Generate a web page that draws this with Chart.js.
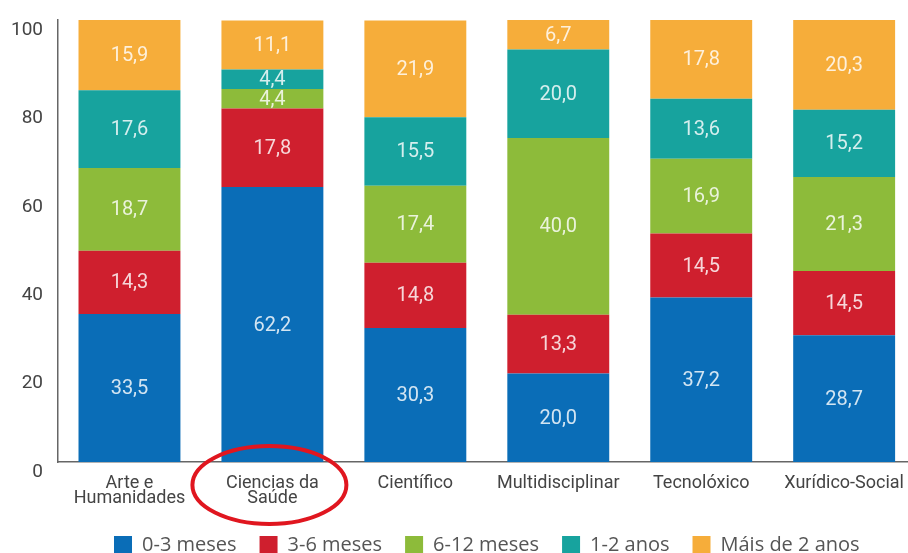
<!DOCTYPE html>
<html lang="gl">
<head>
  <meta charset="UTF-8" />
  <title>Tempo ata o primeiro emprego</title>
  <script src="https://cdn.jsdelivr.net/npm/chart.js"></script>
  <style>
    * { box-sizing: border-box; margin: 0; padding: 0; }
    html, body { width: 908px; height: 553px; overflow: hidden; background: #ffffff; }
    .wrap { position: relative; width: 918px; height: 553px; }
  </style>
</head>
<body>
  <div class="wrap">
    <canvas id="chart"></canvas>
  </div>

  <script>
    // Ramas de coñecemento
    const categories = [
      ['Arte e', 'Humanidades'],
      ['Ciencias da', 'Saúde'],
      'Científico',
      'Multidisciplinar',
      'Tecnolóxico',
      'Xurídico-Social'
    ];
    const seriesNames = ['0-3 meses', '3-6 meses', '6-12 meses', '1-2 anos', 'Máis de 2 anos'];
    const meses0a3   = [33.5, 62.2, 30.3, 20.0, 37.2, 28.7];
    const meses3a6   = [14.3, 17.8, 14.8, 13.3, 14.5, 14.5];
    const meses6a12  = [18.7, 4.4, 17.4, 40.0, 16.9, 21.3];
    const anos1a2    = [17.6, 4.4, 15.5, 20.0, 13.6, 15.2];
    const mais2anos  = [15.9, 11.1, 21.9, 6.7, 17.8, 20.3];
    const yTicks = [0, 20, 40, 60, 80, 100];
    const highlighted = 1; // categoría marcada co círculo vermello

    const colors = ['#0a6db7', '#cf1f2e', '#8dbb3a', '#17a39e', '#f6ad3a'];
    const seriesData = [meses0a3, meses3a6, meses6a12, anos1a2, mais2anos];

    // values written inside each segment
    const segmentLabels = {
      id: 'segmentLabels',
      afterDatasetsDraw(chart) {
        const ctx = chart.ctx;
        ctx.save();
        ctx.font = '20px Roboto, "DejaVu Sans", sans-serif';
        ctx.textAlign = 'center';
        ctx.textBaseline = 'middle';
        ctx.fillStyle = 'rgba(255,255,255,0.82)';
        chart.data.datasets.forEach((ds, i) => {
          chart.getDatasetMeta(i).data.forEach((bar, j) => {
            const mid = (bar.y + bar.base) / 2;
            ctx.fillText(ds.data[j].toFixed(1).replace('.', ','), bar.x, mid + 1);
          });
        });
        ctx.restore();
      }
    };

    // red ellipse around the highlighted category label
    const ringMark = {
      id: 'ringMark',
      afterDraw(chart) {
        const ctx = chart.ctx;
        const x = chart.scales.x.getPixelForValue(highlighted) - 3;
        const y = chart.chartArea.bottom + 23;
        ctx.save();
        ctx.strokeStyle = '#e0161f';
        ctx.lineWidth = 4;
        ctx.beginPath();
        ctx.ellipse(x, y, 77, 39, 0, 0, Math.PI * 2);
        ctx.stroke();
        ctx.restore();
      }
    };

    new Chart(document.getElementById('chart'), {
      type: 'bar',
      data: {
        labels: categories,
        datasets: seriesNames.map((name, i) => ({
          label: name,
          data: seriesData[i],
          backgroundColor: colors[i],
          borderWidth: 0,
          barPercentage: 0.713,
          categoryPercentage: 1.0
        }))
      },
      options: {
        responsive: true,
        maintainAspectRatio: false,
        animation: false,
        layout: { padding: { top: 20, right: 0, bottom: -12, left: 0 } },
        plugins: {
          tooltip: { enabled: false },
          legend: {
            position: 'bottom',
            fullSize: false,
            labels: {
              boxWidth: 18,
              boxHeight: 18,
              padding: 23,
              color: '#555',
              font: { family: '"Open Sans", sans-serif', size: 20 }
            }
          }
        },
        scales: {
          x: {
            stacked: true,
            grid: { display: false, drawTicks: false },
            border: { color: '#666', width: 1.5 },
            ticks: {
              color: '#444',
              padding: 14,
              maxRotation: 0,
              autoSkip: false,
              font: { family: 'Roboto, sans-serif', size: 18, lineHeight: 0.85 }
            },
            afterFit(axis) { axis.height = 50; }
          },
          y: {
            stacked: true,
            min: 0,
            max: 100,
            afterBuildTicks(axis) { axis.ticks = yTicks.map(v => ({ value: v })); },
            grid: { display: false, drawTicks: false },
            border: { color: '#666', width: 1.5 },
            ticks: {
              color: '#444',
              padding: 15,
              labelOffset: 10,
              font: { family: 'Roboto, sans-serif', size: 19 }
            },
            afterFit(axis) {
              axis.width = 58;
              axis.paddingTop = 0;
              axis.paddingBottom = 0;
            }
          }
        }
      },
      plugins: [segmentLabels, ringMark]
    });
  </script>
</body>
</html>
